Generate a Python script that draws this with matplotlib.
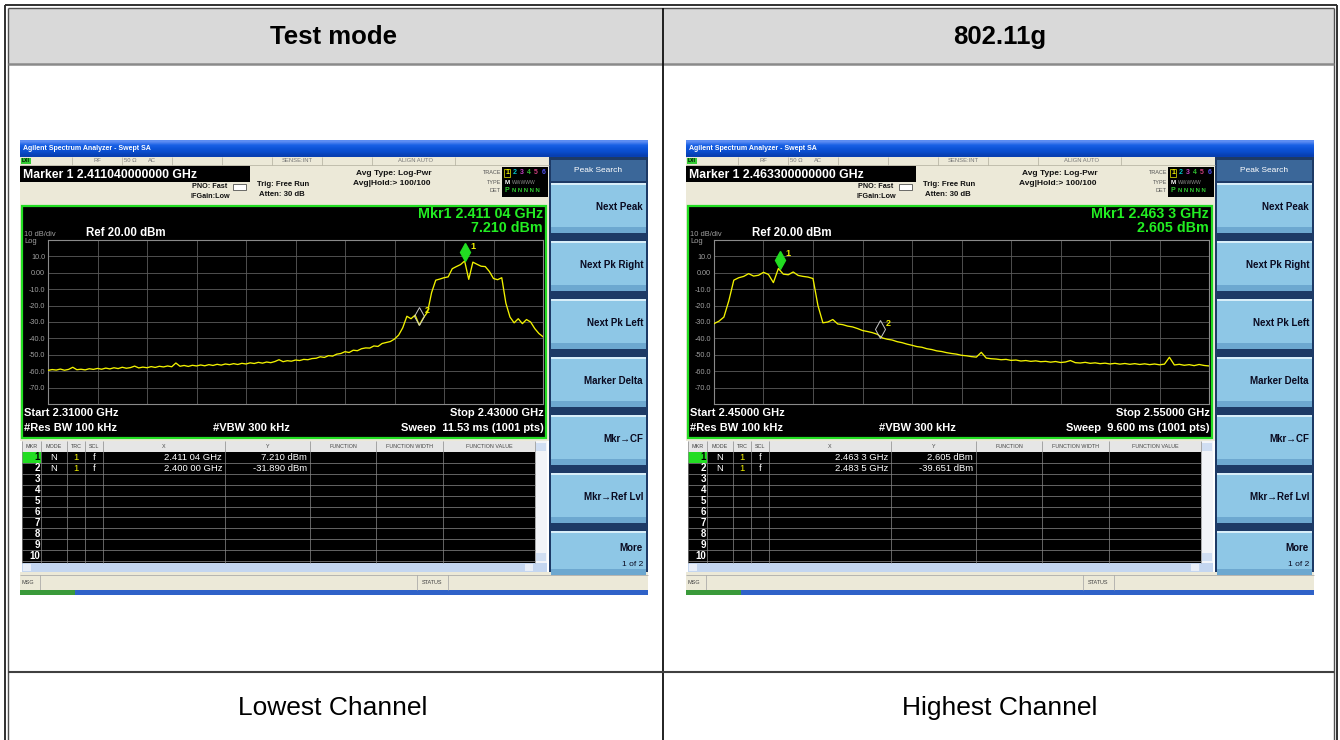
import matplotlib
matplotlib.use('Agg')
import matplotlib.pyplot as plt
from matplotlib.patches import Rectangle
import numpy as np

plt.rcParams['font.family'] = ['Liberation Sans', 'DejaVu Sans']

W, H = 1340, 740

# ---- table text ----
header_labels = ['Test mode', '802.11g']
footer_labels = ['Lowest Channel', 'Highest Channel']

# ---- lowest channel sweep, 2.310 - 2.430 GHz (dBm) ----
low_start, low_stop = 2.310, 2.430
low_trace = [
    -59.5, -59.0, -59.3, -58.7, -59.4, -58.9, -57.6, -59.1, -58.8, -59.2,
    -58.5, -58.9, -58.3, -58.8, -58.1, -58.6, -57.9, -58.4, -57.6, -58.2,
    -57.8, -56.9, -58.0, -57.5, -57.9, -57.2, -57.7, -57.0, -57.4, -56.8,
    -57.3, -55.0, -57.0, -56.5, -57.1, -56.4, -56.8, -56.2, -56.7, -56.0,
    -56.5, -55.8, -56.3, -55.6, -56.0, -55.4, -55.9, -55.2, -55.6, -54.9,
    -55.3, -54.6, -55.1, -54.4, -54.8, -54.1, -53.0, -54.2, -53.6, -53.9,
    -53.2, -53.5, -52.8, -53.0, -52.3, -52.1, -51.2, -51.6, -50.5, -50.8,
    -49.6, -49.2, -48.1, -48.6, -47.2, -47.5, -46.3, -45.8, -45.9, -44.6,
    -44.9, -43.1, -42.5, -41.9, -40.4, -38.0, -33.5, -26.5, -28.0, -25.8,
    -31.9, -27.5, -24.0, -12.0, -4.5, -3.8, -3.0, -2.5, 2.5, 3.8,
    5.0, 7.2, -4.0, 6.5, 5.2, 4.0, 3.8, 0.8, -3.5, -4.2,
    -3.0, -18.5, -27.0, -30.5, -28.0, -31.0, -28.5, -30.0, -34.0, -37.0,
    -39.0,
]
low_markers_f = [2.41104, 2.40000]
low_markers_v = [7.210, -31.890]
low_mkr_x = ['2.411 04 GHz', '2.400 00 GHz']
low_mkr_y = ['7.210 dBm', '-31.890 dBm']

# ---- highest channel sweep, 2.450 - 2.550 GHz (dBm) ----
high_start, high_stop = 2.450, 2.550
high_trace = [
    -31.0, -29.5, -27.0, -17.0, -4.5, -3.0, -2.2, -0.5, -2.0, -1.5,
    0.3, -1.0, -6.0, 2.6, -0.8, -1.2, 0.5, -1.6, -2.2, -2.6,
    -3.5, -20.0, -30.5, -30.0, -28.5, -31.2, -31.6, -32.5, -33.0, -34.0,
    -35.2, -35.8, -36.5, -37.5, -39.7, -40.5, -41.0, -42.0, -42.6, -43.5,
    -44.2, -45.0, -45.4, -46.3, -46.8, -47.6, -48.0, -48.7, -49.2, -49.6,
    -50.3, -50.6, -51.1, -51.4, -48.5, -52.0, -52.4, -52.6, -53.0, -52.8,
    -53.4, -53.2, -53.8, -53.5, -54.0, -53.7, -54.2, -54.0, -54.5, -54.1,
    -54.7, -54.4, -53.5, -54.8, -55.0, -54.6, -55.2, -54.9, -55.4, -55.1,
    -55.6, -55.2, -55.7, -55.3, -55.8, -55.4, -55.9, -55.5, -56.0, -55.6,
    -56.1, -55.7, -51.5, -56.2, -55.8, -56.4, -56.0, -56.6, -55.9, -56.5,
    -56.8,
]
high_markers_f = [2.4633, 2.4835]
high_markers_v = [2.605, -39.651]
high_mkr_x = ['2.463 3 GHz', '2.483 5 GHz']
high_mkr_y = ['2.605 dBm', '-39.651 dBm']

y_ticks = [20, 10, 0, -10, -20, -30, -40, -50, -60, -70, -80]
y_tick_labels = ['', '10.0', '0.00', '-10.0', '-20.0', '-30.0', '-40.0',
                 '-50.0', '-60.0', '-70.0', '']
softkeys = ['Next Peak', 'Next Pk Right', 'Next Pk Left', 'Marker Delta',
            'Mkr\u2192CF', 'Mkr\u2192Ref Lvl', 'More']
table_cols = ['MKR', 'MODE', 'TRC', 'SCL', 'X', 'Y', 'FUNCTION',
              'FUNCTION WIDTH', 'FUNCTION VALUE']
trace_digit_colors = ['#f0f000', '#00c8c8', '#c040c0', '#30c030', '#d04080', '#5050f0']

fig = plt.figure(figsize=(W / 100, H / 100), dpi=100)
ax = fig.add_axes([0, 0, 1, 1])
ax.set_xlim(0, W)
ax.set_ylim(H, 0)
ax.axis('off')


def R(x, y, w, h, fc, ec='none', lw=0, z=2):
    ax.add_patch(Rectangle((x, y), w, h, facecolor=fc, edgecolor=ec, linewidth=lw, zorder=z))


def T(x, y, s, size, color='black', ha='left', weight='normal', z=6):
    ax.text(x, y, s, fontsize=size, color=color, ha=ha, va='center',
            fontweight=weight, zorder=z)


def L(xs, ys, color, lw, z=3):
    ax.plot(xs, ys, color=color, lw=lw, zorder=z, solid_capstyle='butt')


# ---- table frame ----
R(7.5, 7.5, 1326, 56, '#d9d9d9', z=1)
L([4.5, 1336.5], [4.5, 4.5], '#303030', 1.4)
L([7.5, 1333.5], [7.5, 7.5], '#505050', 1.0)
L([4.5, 4.5], [4.5, 740], '#303030', 1.4)
L([7.5, 7.5], [7.5, 740], '#505050', 1.0)
L([1336.5, 1336.5], [4.5, 740], '#303030', 1.4)
L([1333.5, 1333.5], [7.5, 740], '#505050', 1.0)
L([7.5, 1333.5], [63.5, 63.5], '#8a8a8a', 1.8)
L([662.5, 662.5], [7.5, 740], '#101010', 1.3)
L([7.5, 1333.5], [671.5, 671.5], '#404040', 1.5)

for cx, s in zip([333, 1000], header_labels):
    T(cx, 37, s, 18.5, 'black', ha='center', weight='bold')
for cx, s in zip([333, 1000], footer_labels):
    T(cx, 708, s, 19, 'black', ha='center')

title_grad = np.array([[[0.36, 0.55, 0.95]], [[0.10, 0.38, 0.90]], [[0.05, 0.33, 0.85]],
                       [[0.04, 0.30, 0.80]], [[0.03, 0.25, 0.70]]])


def draw_screen(x0, marker_line, mkr1_f, mkr1_v, start_txt, stop_txt, sweep_txt,
                start, stop, trace, mf, mv, mx_txt, my_txt):
    # title bar
    ax.imshow(title_grad, extent=(x0, x0 + 628, 157, 140), aspect='auto', zorder=2,
              interpolation='bilinear')
    T(x0 + 3, 148.5, 'Agilent Spectrum Analyzer - Swept SA', 5.0, 'white', weight='bold')

    # status row
    R(x0, 157, 529, 48, '#ece9d8', z=2)
    L([x0, x0 + 529], [165, 165], '#b0ad9c', 0.5)
    for sx in [52, 102, 152, 202, 252, 302, 352, 435]:
        L([x0 + sx, x0 + sx], [157, 165], '#b0ad9c', 0.5)
    R(x0 + 1, 158, 10, 6, '#33cc33', z=3)
    T(x0 + 2, 161, 'LXI', 3.6, 'black', weight='bold')
    T(x0 + 77, 161, 'RF', 4.2, '#777777', ha='center')
    T(x0 + 110, 161, '50 \u03a9', 4.2, '#777777', ha='center')
    T(x0 + 132, 161, 'AC', 4.2, '#777777', ha='center')
    T(x0 + 277, 161, 'SENSE:INT', 4.2, '#777777', ha='center')
    T(x0 + 395, 161, 'ALIGN AUTO', 4.2, '#777777', ha='center')

    # marker readout & settings
    R(x0, 166, 230, 16, 'black', z=3)
    T(x0 + 3, 174.5, marker_line, 8.8, 'white', weight='bold')
    T(x0 + 207, 187, 'PNO: Fast', 5.2, '#111111', ha='right', weight='bold')
    T(x0 + 210, 196.5, 'IFGain:Low', 5.2, '#111111', ha='right', weight='bold')
    R(x0 + 213, 184, 13, 6, 'white', ec='#333333', lw=0.5, z=3)
    T(x0 + 237, 184.5, 'Trig: Free Run', 5.6, '#111111', weight='bold')
    T(x0 + 239, 194, 'Atten: 30 dB', 5.6, '#111111', weight='bold')
    T(x0 + 336, 173.5, 'Avg Type: Log-Pwr', 6.0, '#111111', weight='bold')
    T(x0 + 333, 183.5, 'Avg|Hold:> 100/100', 6.0, '#111111', weight='bold')
    T(x0 + 481, 173, 'TRACE', 4.0, '#555555', ha='right')
    T(x0 + 481, 182, 'TYPE', 4.0, '#555555', ha='right')
    T(x0 + 481, 191, 'DET', 4.0, '#555555', ha='right')
    R(x0 + 482, 167, 46, 30, 'black', z=3)
    R(x0 + 483.5, 168.5, 6.5, 8, 'none', ec='#f0f000', lw=0.5, z=4)
    for k, c in enumerate(trace_digit_colors):
        T(x0 + 487 + k * 7.3, 173, str(k + 1), 5.0, c, ha='center', weight='bold')
    T(x0 + 487, 182, 'M', 4.6, 'white', ha='center', weight='bold')
    T(x0 + 492, 182, 'WWWWW', 3.6, '#909090')
    T(x0 + 487, 191, 'P', 5.0, '#30d030', ha='center', weight='bold')
    T(x0 + 492, 191, 'N N N N N', 4.3, '#30d030', weight='bold')

    # screen
    R(x0, 205, 529, 236, '#ece9d8', z=2)
    R(x0 + 2, 206, 524, 232, 'black', ec='#22dd22', lw=1.6, z=3)
    T(x0 + 523, 213.5, mkr1_f, 10.3, '#22ee22', ha='right', weight='bold')
    T(x0 + 523, 228, mkr1_v, 10.3, '#22ee22', ha='right', weight='bold')
    T(x0 + 4, 234, '10 dB/div', 5.4, '#a0a0a0')
    T(x0 + 66, 232.5, 'Ref 20.00 dBm', 8.3, 'white', weight='bold')
    T(x0 + 4, 241.5, 'Log', 5.4, '#a0a0a0')
    T(x0 + 4, 413, start_txt, 8.0, 'white', weight='bold')
    T(x0 + 524, 413, stop_txt, 8.0, 'white', ha='right', weight='bold')
    T(x0 + 4, 428, '#Res BW 100 kHz', 8.0, 'white', weight='bold')
    T(x0 + 193, 428, '#VBW 300 kHz', 8.0, 'white', weight='bold')
    T(x0 + 524, 428, sweep_txt, 8.0, 'white', ha='right', weight='bold')

    # trace graticule
    gx, gy, gw, gh = x0 + 28, 240, 495, 164
    tax = fig.add_axes([gx / W, 1 - (gy + gh) / H, gw / W, gh / H])
    tax.set_facecolor('black')
    freqs = np.linspace(start, stop, len(trace))
    tax.plot(freqs, trace, color='#f2f200', lw=0.95, zorder=3)
    tax.set_xlim(start, stop)
    tax.set_ylim(-80, 20)
    tax.set_xticks(np.linspace(start, stop, 11))
    tax.set_xticklabels([])
    tax.set_yticks(y_ticks)
    tax.set_yticklabels(y_tick_labels)
    tax.tick_params(length=0, labelsize=5.2, labelcolor='#a0a0a0', pad=2)
    tax.grid(color='#5c5c5c', lw=0.6)
    for sp in tax.spines.values():
        sp.set_color('#8a8a8a')
        sp.set_linewidth(0.8)
    dx = (stop - start) / 100
    tax.plot(mf[0], mv[0] + 5.5, marker='d', ms=9, color='#22dd22', zorder=5)
    tax.text(mf[0] + 1.2 * dx, mv[0] + 9, '1', fontsize=6.5, color='#f0f000',
             weight='bold', va='center')
    tax.plot(mf[1], mv[1] + 5.5, marker='d', ms=9, mfc='none', mec='#c8c8c8',
             mew=0.7, zorder=5)
    tax.text(mf[1] + 1.2 * dx, mv[1] + 9, '2', fontsize=6.5, color='#f0f000',
             weight='bold', va='center')

    # marker table
    cols = [2, 21, 47, 65, 83, 205, 290, 356, 423, 515]
    R(x0 + 2, 441, 525, 11, '#e6e6e6', z=3)
    for a, b, s in zip(cols[:-1], cols[1:], table_cols):
        T(x0 + (a + b) / 2, 446.5, s, 3.9, '#444444', ha='center')
    top, rh = 452, 10.9
    R(x0 + 2, top, 513, 111, 'black', z=3)
    R(x0 + 2, top, 19, rh, '#22dd22', z=4)
    for c in cols:
        L([x0 + c, x0 + c], [441, 563], '#8a8a8a', 0.5, z=5)
    for k in range(10):
        yy = top + k * rh
        L([x0 + 2, x0 + 515], [yy + rh, yy + rh], '#8a8a8a', 0.5, z=5)
        T(x0 + 20, yy + rh / 2, str(k + 1), 7.0, 'black' if k == 0 else 'white',
          ha='right', weight='bold')
    for k in range(2):
        yy = top + k * rh + rh / 2
        T(x0 + 34, yy, 'N', 6.8, 'white', ha='center')
        T(x0 + 56, yy, '1', 6.8, '#f0f000', ha='center')
        T(x0 + 74, yy, 'f', 6.8, 'white', ha='center')
        T(x0 + 202, yy, mx_txt[k], 6.8, 'white', ha='right')
        T(x0 + 287, yy, my_txt[k], 6.8, 'white', ha='right')
    # scrollbars
    R(x0 + 515, 441, 12, 122, '#f2f4f8', z=3)
    R(x0 + 516, 443, 10, 8, '#d0def2', z=4)
    R(x0 + 516, 553, 10, 8, '#d0def2', z=4)
    R(x0 + 2, 563, 525, 9, '#c4d6f0', z=3)
    R(x0 + 3, 564, 8, 7, '#e8eef8', z=4)
    R(x0 + 505, 564, 8, 7, '#e8eef8', z=4)
    # message bar
    R(x0, 572, 628, 18, '#ece9d8', z=3)
    L([x0, x0 + 628], [575, 575], '#a0a0a0', 0.5, z=4)
    L([x0 + 20, x0 + 20], [575, 590], '#a0a0a0', 0.5, z=4)
    L([x0 + 397, x0 + 397], [575, 590], '#a0a0a0', 0.5, z=4)
    L([x0 + 428, x0 + 428], [575, 590], '#a0a0a0', 0.5, z=4)
    T(x0 + 2, 582.5, 'MSG', 4.0, '#444444')
    T(x0 + 412, 582.5, 'STATUS', 4.0, '#444444', ha='center')
    R(x0, 590, 628, 5, '#2f62c8', z=3)
    R(x0, 590, 55, 5, '#3a9a3a', z=4)

    # softkey panel
    R(x0 + 529, 157, 99, 418, '#1d3a66', z=2)
    R(x0 + 531, 160, 95, 21, '#3b6799', z=3)
    T(x0 + 578, 170, 'Peak Search', 6.0, 'white', ha='center')
    for k, s in enumerate(softkeys):
        bt = 183 + k * 58
        bh = 50 if k < 6 else 44
        R(x0 + 531, bt, 95, bh, '#8ec7e6', z=3)
        R(x0 + 531, bt, 95, 2, '#d8eef9', z=4)
        R(x0 + 531, bt + bh - 6, 95, 6, '#6da8d0', z=4)
        if k < 6:
            T(x0 + 623, bt + 24, s, 7.0, '#0a0a20', ha='right', weight='bold')
        else:
            T(x0 + 623, bt + 17, s, 7.0, '#0a0a20', ha='right', weight='bold')
            T(x0 + 623, bt + 34, '1 of 2', 6.0, '#0a0a20', ha='right')


draw_screen(20, 'Marker 1 2.411040000000 GHz', 'Mkr1 2.411 04 GHz', '7.210 dBm',
            'Start 2.31000 GHz', 'Stop 2.43000 GHz', 'Sweep  11.53 ms (1001 pts)',
            low_start, low_stop, low_trace, low_markers_f, low_markers_v,
            low_mkr_x, low_mkr_y)
draw_screen(686, 'Marker 1 2.463300000000 GHz', 'Mkr1 2.463 3 GHz', '2.605 dBm',
            'Start 2.45000 GHz', 'Stop 2.55000 GHz', 'Sweep  9.600 ms (1001 pts)',
            high_start, high_stop, high_trace, high_markers_f, high_markers_v,
            high_mkr_x, high_mkr_y)

ax.set_xlim(0, W)
ax.set_ylim(H, 0)
fig.savefig('out.png', dpi=100)
